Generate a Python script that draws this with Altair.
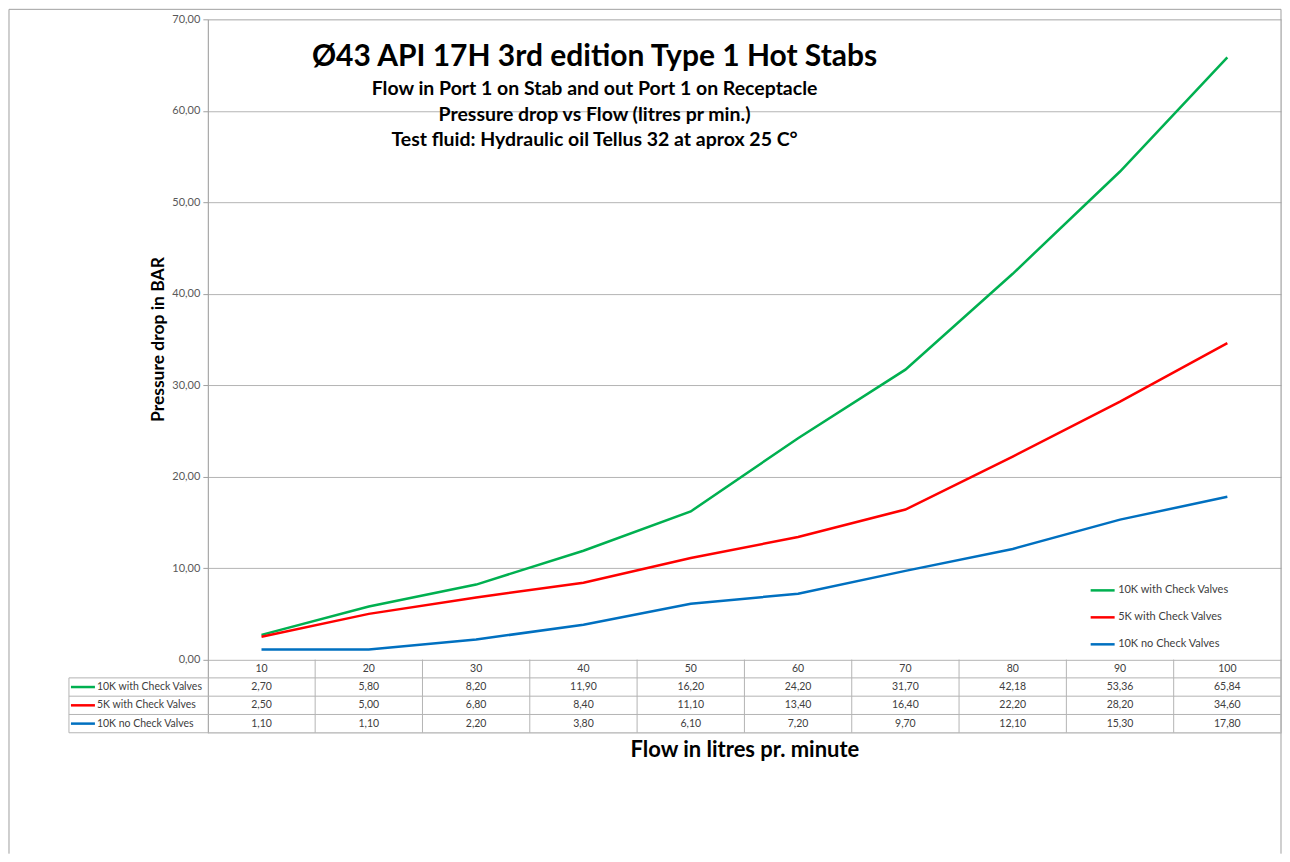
import altair as alt
import pandas as pd

# ---------------- data ----------------
flow = [10, 20, 30, 40, 50, 60, 70, 80, 90, 100]
series_names = ["10K with Check Valves", "5K with Check Valves", "10K no Check Valves"]
green_vals = [2.70, 5.80, 8.20, 11.90, 16.20, 24.20, 31.70, 42.18, 53.36, 65.84]
red_vals = [2.50, 5.00, 6.80, 8.40, 11.10, 13.40, 16.40, 22.20, 28.20, 34.60]
blue_vals = [1.10, 1.10, 2.20, 3.80, 6.10, 7.20, 9.70, 12.10, 15.30, 17.80]
y_ticks = [0, 10, 20, 30, 40, 50, 60, 70]
colors = ["#00B050", "#FF0000", "#0070C0"]

title_text = "Ø43 API 17H 3rd edition Type 1 Hot Stabs"
subtitle_lines = [
    "Flow in Port 1 on Stab and out Port 1 on Receptacle",
    "Pressure drop  vs Flow (litres pr min.)",
    "Test fluid: Hydraulic oil Tellus 32 at aprox 25 C°",
]

# ---------------- layout ----------------
W, H = 1074, 714
X_DOMAIN = [5, 105]
Y_DOMAIN = [-8, 70]
PX = W / (X_DOMAIN[1] - X_DOMAIN[0])
PLOT_LEFT = 207
FONT = "Lato"
GRID = "#B4B4B4"
TXT = "#404040"
FRAME = "#A0A0A0"


def px2x(p):
    return X_DOMAIN[0] + (p - PLOT_LEFT) / PX


def fmt(v):
    return f"{v:.2f}".replace(".", ",")


rows = []
for name, vals in zip(series_names, [green_vals, red_vals, blue_vals]):
    for f, v in zip(flow, vals):
        rows.append({"series": name, "flow": f, "value": v})
df = pd.DataFrame(rows)

xs = alt.Scale(domain=X_DOMAIN, nice=False, zero=False)
ys = alt.Scale(domain=Y_DOMAIN, nice=False, zero=False)
cs = alt.Scale(domain=series_names, range=colors)

# frame around whole chart (left, top, right sides; bottom is off-page)
one = pd.DataFrame({"a": [0]})
F_L, F_R, F_T, F_B = -199, W, -10, 835
frame_left = alt.Chart(one).mark_rule(color=FRAME, strokeWidth=1, clip=False).encode(
    x=alt.value(F_L), y=alt.value(F_T), y2=alt.value(F_B))
frame_right = alt.Chart(one).mark_rule(color=FRAME, strokeWidth=1, clip=False).encode(
    x=alt.value(F_R), y=alt.value(F_T), y2=alt.value(F_B))
frame_top = alt.Chart(one).mark_rule(color=FRAME, strokeWidth=1, clip=False).encode(
    x=alt.value(F_L), x2=alt.value(F_R), y=alt.value(F_T))

# data table
x_left = px2x(68)
hl = pd.DataFrame({
    "y": [-2, -4, -6, -8],
    "x1": [x_left] * 4,
    "x2": [X_DOMAIN[1]] * 4,
})
vl_x = [15, 25, 35, 45, 55, 65, 75, 85, 95, 105]
vl = pd.DataFrame({"x": vl_x + [x_left], "y1": [0] * len(vl_x) + [-2], "y2": [-8] * (len(vl_x) + 1)})

h_rules = alt.Chart(hl).mark_rule(color=GRID, strokeWidth=1, clip=False).encode(
    x=alt.X("x1:Q", scale=xs), x2="x2:Q", y=alt.Y("y:Q", scale=ys)
)
v_rules = alt.Chart(vl).mark_rule(color=GRID, strokeWidth=1, clip=False).encode(
    x=alt.X("x:Q", scale=xs), y=alt.Y("y1:Q", scale=ys), y2="y2:Q"
)

cells = []
for f in flow:
    cells.append({"flow": f, "row_y": -1, "txt": str(f)})
for r, vals in enumerate([green_vals, red_vals, blue_vals]):
    for f, v in zip(flow, vals):
        cells.append({"flow": f, "row_y": -(2 * r + 3), "txt": fmt(v)})
cells = pd.DataFrame(cells)

cell_text = alt.Chart(cells).mark_text(
    font=FONT, fontSize=10.5, color=TXT, align="center", baseline="middle", clip=False
).encode(x=alt.X("flow:Q", scale=xs), y=alt.Y("row_y:Q", scale=ys), text="txt:N")

rl = pd.DataFrame({
    "series": series_names,
    "row_y": [-3, -5, -7],
    "k1": [px2x(70)] * 3,
    "k2": [px2x(94)] * 3,
    "tx": [px2x(96)] * 3,
})
key_lines = alt.Chart(rl).mark_rule(strokeWidth=2.5, clip=False).encode(
    x=alt.X("k1:Q", scale=xs), x2="k2:Q", y=alt.Y("row_y:Q", scale=ys),
    color=alt.Color("series:N", scale=cs, legend=None),
)
row_labels = alt.Chart(rl).mark_text(
    font=FONT, fontSize=10.5, color=TXT, align="left", baseline="middle", clip=False
).encode(x=alt.X("tx:Q", scale=xs), y=alt.Y("row_y:Q", scale=ys), text="series:N")

# lines
lines = alt.Chart(df).mark_line(strokeWidth=2.5, clip=False).encode(
    x=alt.X("flow:Q", scale=xs, axis=alt.Axis(
        title="Flow in litres pr. minute", labels=False, ticks=False, domain=False, grid=False,
        titleFont=FONT, titleFontSize=22, titleFontWeight="bold", titleColor="black", titlePadding=7,
    )),
    y=alt.Y("value:Q", scale=ys, axis=alt.Axis(
        values=y_ticks, labelExpr="replace(format(datum.value, '.2f'), '.', ',')",
        grid=True, gridColor=GRID, gridWidth=1, domainColor="#A0A0A0", tickColor="#A0A0A0",
        tickSize=5, labelFont=FONT, labelFontSize=11, labelColor="#595959", labelPadding=3,
        title="Pressure drop in BAR", titleFont=FONT, titleFontSize=17.5, titleFontWeight="bold",
        titleColor="black", titleY=320, titlePadding=4,
    )),
    color=alt.Color("series:N", scale=cs, legend=alt.Legend(
        title=None, orient="none", legendX=882, legendY=558, symbolType="stroke",
        symbolSize=576, symbolStrokeWidth=2.5, labelFont=FONT, labelFontSize=11,
        labelColor=TXT, rowPadding=8, labelOffset=2, symbolOffset=0,
    )),
)

chart = alt.layer(
    frame_left, frame_right, frame_top, h_rules, v_rules, lines, cell_text, key_lines, row_labels
).properties(
    width=W, height=H, padding=0,
    title=alt.TitleParams(
        text=title_text, subtitle=subtitle_lines, anchor="middle", dx=-150, offset=-141,
        font=FONT, fontSize=30, fontWeight="bold", color="black",
        subtitleFont=FONT, subtitleFontSize=19.5, subtitleFontWeight="bold", subtitleColor="black",
        subtitleLineHeight=25.5, subtitlePadding=8,
    ),
).configure_view(stroke=None).configure(background="white")

chart.save("out.html", embed_options={"renderer": "svg", "actions": False})
